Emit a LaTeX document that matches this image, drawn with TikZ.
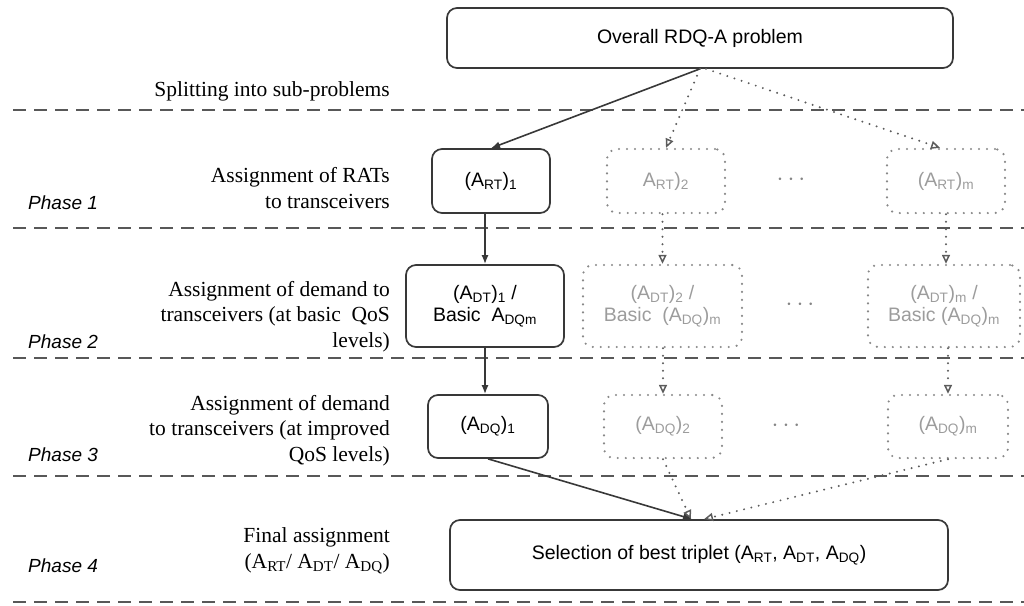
\documentclass[tikz,border=0pt]{standalone}
\usepackage{fontspec}
\setmainfont{Liberation Serif}
\setsansfont{Liberation Sans}
\usetikzlibrary{arrows.meta}
\definecolor{boxline}{HTML}{383838}
\definecolor{sepcol}{HTML}{585858}
\definecolor{dotline}{HTML}{888888}
\definecolor{dottext}{HTML}{9C9C9C}
\definecolor{arrdot}{HTML}{5C5C5C}
\definecolor{ellcol}{HTML}{858585}
\newcommand\sbx[1]{\textsubscript{#1}}
\newcommand\elldots{$\cdot$\kern4pt$\cdot$\kern4pt$\cdot$}
\begin{document}
\begin{tikzpicture}[x=1pt,y=-1pt,
  boxfont/.style={font=\sffamily\fontsize{19.5}{22}\selectfont},
  solidbox/.style={boxfont, draw=boxline, line width=1.7pt, rounded corners=10pt, align=center, inner sep=0pt},
  dotbox/.style={boxfont, draw=dotline, line width=2.4pt, dash pattern=on 0pt off 8pt, line cap=round, rounded corners=10pt, text=dottext, align=center, inner sep=0pt},
  lab/.style={font=\rmfamily\fontsize{21.5}{25.5}\selectfont, align=right, inner sep=0pt, anchor=base east},
  phaselab/.style={font=\sffamily\itshape\fontsize{19}{22}\selectfont, inner sep=0pt, anchor=base west},
  dottxt/.style={font=\fontsize{24}{24}\selectfont, text=ellcol, inner sep=0pt},
  sepline/.style={draw=sepcol, line width=2pt, dash pattern=on 13pt off 8pt},
  solidarr/.style={draw=boxline, line width=1.6pt, -{Latex[length=9pt,width=7pt]}},
  dotarr/.style={draw=arrdot, line width=2.2pt, dash pattern=on 0pt off 7.5pt, line cap=round, -{Triangle[open,length=9pt,width=8pt,line width=1.5pt]}}
]
\useasboundingbox (0,0) rectangle (1024,605);

% separators
\foreach \yy in {110,228,358,476,602}
  \draw[sepline] (13,\yy) -- (1024,\yy);

% left labels (anchored at the baseline of their last line)
\node[lab] (l0) at (390,96) {Splitting into sub-problems};
\node[lab] (l1) at (390,208) {Assignment of RATs\\to transceivers};
\node[lab] (l2) at (390,347) {Assignment of demand to\\transceivers (at basic\ \ QoS\\levels)};
\node[lab] (l3) at (390,461) {Assignment of demand\\to transceivers (at improved\\QoS levels)};
\node[lab] (l4) at (390,568) {Final assignment\\(A\sbx{RT}/ A\sbx{DT}/ A\sbx{DQ})};

\node[phaselab] (p1) at (28,209) {Phase 1};
\node[phaselab] (p2) at (28,348) {Phase 2};
\node[phaselab] (p3) at (28,461) {Phase 3};
\node[phaselab] (p4) at (28,572) {Phase 4};

% boxes
\node[solidbox, minimum width=506, minimum height=60] (top) at (700,38) {Overall RDQ-A problem};

\node[solidbox, minimum width=118, minimum height=64] (r1a) at (491,181) {(A\sbx{RT})\sbx{1}};
\node[dotbox, minimum width=118, minimum height=64] (r1b) at (666,181) {A\sbx{RT})\sbx{2}};
\node[dottxt] (d1) at (791,180) {\elldots};
\node[dotbox, minimum width=118, minimum height=64] (r1m) at (946,181) {(A\sbx{RT})\sbx{m}};

\node[solidbox, minimum width=158, minimum height=82] (r2a) at (485,306) {(A\sbx{DT})\sbx{1} /\\Basic\ \ A\sbx{DQm}};
\node[dotbox, minimum width=159, minimum height=82] (r2b) at (662.5,306) {(A\sbx{DT})\sbx{2} /\\Basic\ \ (A\sbx{DQ})\sbx{m}};
\node[dottxt] (d2) at (800,305) {\elldots};
\node[dotbox, minimum width=152, minimum height=82] (r2m) at (944,306) {(A\sbx{DT})\sbx{m} /\\Basic (A\sbx{DQ})\sbx{m}};

\node[solidbox, minimum width=120, minimum height=63] (r3a) at (488,426.5) {(A\sbx{DQ})\sbx{1}};
\node[dotbox, minimum width=118, minimum height=63] (r3b) at (663,426.5) {(A\sbx{DQ})\sbx{2}};
\node[dottxt] (d3) at (786,425.5) {\elldots};
\node[dotbox, minimum width=120, minimum height=63] (r3m) at (948,426.5) {(A\sbx{DQ})\sbx{m}};

\node[solidbox, minimum width=498, minimum height=70] (fin) at (699,555) {Selection of best triplet (A\sbx{RT}, A\sbx{DT}, A\sbx{DQ})};

% connectors
\draw[solidarr] (top.south) -- (r1a.north);
\draw[dotarr] (top.south) -- (r1b.north);
\draw[dotarr] ([xshift=6pt]top.south) -- ([xshift=-6pt]r1m.north);

\draw[solidarr] (r2a.north |- r1a.south) -- (r2a.north);
\draw[dotarr] (r2b.north |- r1b.south) -- (r2b.north);
\draw[dotarr] (r1m.south) -- (r1m.south |- r2m.north);

\draw[solidarr] (r2a.south) -- (r2a.south |- r3a.north);
\draw[dotarr] (r3b.north |- r2b.south) -- (r3b.north);
\draw[dotarr] (r3m.north |- r2m.south) -- (r3m.north);

\draw[dotarr] (r3b.south) -- ([xshift=-8pt]fin.north);
\draw[dotarr] (r3m.south) -- ([xshift=5pt]fin.north);
\draw[solidarr] (r3a.south) -- ([xshift=-7pt]fin.north);
\end{tikzpicture}
\end{document}
